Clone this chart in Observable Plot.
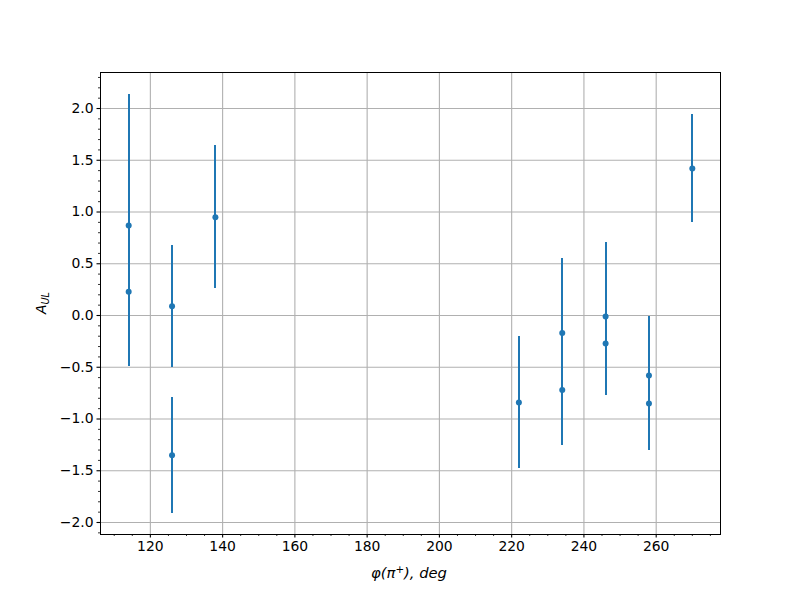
<!DOCTYPE html>
<html><head><meta charset="utf-8">
<script src="https://cdn.jsdelivr.net/npm/d3@7"></script>
<script src="https://cdn.jsdelivr.net/npm/@observablehq/plot@0.6"></script>
<style>body{margin:0;background:#fff} #chart svg{font-family:"DejaVu Sans"}</style>
</head><body><div id="chart"></div>
<script>
// data
const phi  = [114, 114, 126, 126, 138, 222, 234, 234, 246, 246, 258, 258, 270];
const asym = [0.87, 0.23, 0.09, -1.35, 0.95, -0.84, -0.17, -0.72, -0.01, -0.27, -0.58, -0.85, 1.42];
const err  = [1.27, 0.72, 0.59, 0.56, 0.69, 0.64, 0.72, 0.54, 0.72, 0.50, 0.57, 0.45, 0.52];
const xTicks = [120, 140, 160, 180, 200, 220, 240, 260];
const yTicks = [-2.0, -1.5, -1.0, -0.5, 0.0, 0.5, 1.0, 1.5, 2.0];

const data = phi.map((p, i) => ({phi: p, a: asym[i], e: err[i]}));
const xMinor = d3.range(110, 276, 5).filter(v => !xTicks.includes(v));
const yMinor = d3.range(-21, 24, 1).map(v => v / 10).filter(v => !yTicks.some(t => Math.abs(t - v) < 1e-9));
const fmtY = d => d.toFixed(1).replace("-", "\u2212");
const blue = "#1f77b4";
const gridStyle = {stroke: "#b0b0b0", strokeOpacity: 1, strokeWidth: 1.1};

const chart = Plot.plot({
  width: 800, height: 600,
  marginLeft: 100, marginRight: 80, marginTop: 72, marginBottom: 66,
  x: {domain: [106.2, 277.8]},
  y: {domain: [-2.116, 2.348]},
  style: {fontFamily: "DejaVu Sans", fontSize: "13.9px", color: "black", background: "white"},
  marks: [
    Plot.gridX(xTicks, gridStyle),
    Plot.gridY(yTicks, gridStyle),
    Plot.ruleX(data, {x: "phi", y1: d => d.a - d.e, y2: d => d.a + d.e, stroke: blue, strokeWidth: 2, shapeRendering: "crispEdges"}),
    Plot.dot(data, {x: "phi", y: "a", r: 3, fill: blue, stroke: null}),
    Plot.axisX(xTicks, {tickSize: 3.5, tickPadding: 3.5, label: null, tickFormat: d => String(d), strokeWidth: 1.1}),
    Plot.axisX(xMinor, {tickSize: 2, label: null, tickFormat: () => "", strokeWidth: 0.8}),
    Plot.axisY(yTicks, {tickSize: 3.5, tickPadding: 3.5, label: null, tickFormat: fmtY, strokeWidth: 1.1}),
    Plot.axisY(yMinor, {tickSize: 2, label: null, tickFormat: () => "", strokeWidth: 0.8}),
    Plot.frame({stroke: "black", strokeWidth: 1})
  ]
});
document.getElementById("chart").appendChild(chart);

const svg = d3.select(chart);
const xl = svg.append("text").attr("x", 371).attr("y", 578).attr("text-anchor", "start")
  .attr("font-size", 13.9).attr("font-style", "italic").attr("fill", "black")
  .attr("textLength", 76).attr("lengthAdjust", "spacingAndGlyphs");
xl.append("tspan").text("\u03c6(\u03c0");
xl.append("tspan").attr("dy", -5).attr("font-size", 9.7).text("+");
xl.append("tspan").attr("dy", 5).text("), deg");

const yl = svg.append("text").attr("transform", "translate(46,303) rotate(-90)").attr("text-anchor", "middle")
  .attr("font-size", 13.9).attr("font-style", "italic").attr("fill", "black");
yl.append("tspan").text("A");
yl.append("tspan").attr("dy", 3).attr("font-size", 9.7).text("UL");
</script>
</body></html>
